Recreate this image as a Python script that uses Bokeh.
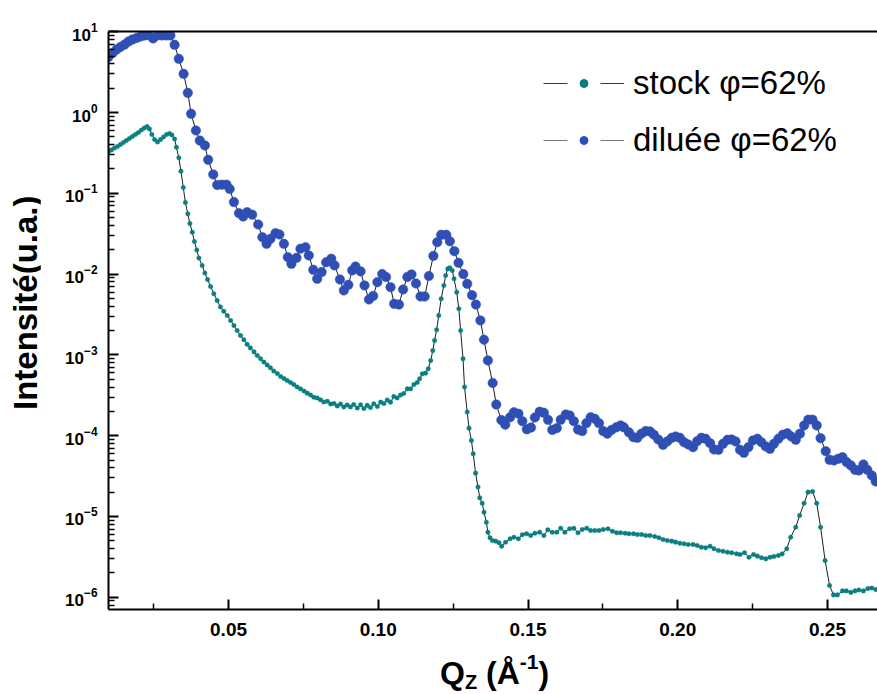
from bokeh.plotting import figure
from bokeh.models import (ColumnDataSource, FixedTicker, NumeralTickFormatter, Div,
                          Legend, LegendItem, LinearAxis, Range1d)
from bokeh.layouts import row, column
from bokeh.embed import file_html
from bokeh.resources import INLINE

# ---------------- data ----------------
q_stock = [
    0.0099, 0.0109, 0.0119, 0.0129, 0.0139, 0.0149, 0.0159, 0.0169, 0.0179, 0.0189,
    0.0199, 0.0209, 0.0219, 0.0228, 0.0236, 0.0244, 0.0253, 0.0263, 0.0273, 0.0283,
    0.0293, 0.0303, 0.0311, 0.0320, 0.0326, 0.0334, 0.0341, 0.0349, 0.0356, 0.0364,
    0.0371, 0.0379, 0.0386, 0.0394, 0.0401, 0.0412, 0.0421, 0.0430, 0.0440, 0.0451,
    0.0462, 0.0473, 0.0484, 0.0496, 0.0507, 0.0518, 0.0529, 0.0540, 0.0551, 0.0562,
    0.0573, 0.0585, 0.0596, 0.0607, 0.0618, 0.0629, 0.0640, 0.0651, 0.0663, 0.0674,
    0.0685, 0.0696, 0.0707, 0.0718, 0.0729, 0.0740, 0.0752, 0.0763, 0.0774, 0.0785,
    0.0796, 0.0807, 0.0818, 0.0830, 0.0841, 0.0852, 0.0863, 0.0874, 0.0885, 0.0896,
    0.0907, 0.0918, 0.0930, 0.0941, 0.0952, 0.0963, 0.0974, 0.0985, 0.0997, 0.1008,
    0.1019, 0.1030, 0.1041, 0.1052, 0.1063, 0.1074, 0.1085, 0.1097, 0.1108, 0.1119,
    0.1130, 0.1138, 0.1147, 0.1158, 0.1167, 0.1175, 0.1182, 0.1188, 0.1195, 0.1202,
    0.1210, 0.1219, 0.1225, 0.1232, 0.1239, 0.1247, 0.1253, 0.1262, 0.1269, 0.1275,
    0.1283, 0.1288, 0.1297, 0.1303, 0.1311, 0.1317, 0.1325, 0.1333, 0.1339, 0.1347,
    0.1353, 0.1361, 0.1366, 0.1373, 0.1381, 0.1392, 0.1403, 0.1412, 0.1425, 0.1440,
    0.1453, 0.1468, 0.1481, 0.1495, 0.1509, 0.1523, 0.1539, 0.1553, 0.1566, 0.1581,
    0.1596, 0.1609, 0.1623, 0.1639, 0.1653, 0.1667, 0.1681, 0.1696, 0.1709, 0.1723,
    0.1737, 0.1751, 0.1767, 0.1782, 0.1796, 0.1809, 0.1824, 0.1837, 0.1852, 0.1865,
    0.1879, 0.1893, 0.1907, 0.1923, 0.1937, 0.1951, 0.1965, 0.1980, 0.1993, 0.2007,
    0.2021, 0.2035, 0.2051, 0.2065, 0.2079, 0.2093, 0.2108, 0.2121, 0.2136, 0.2151,
    0.2166, 0.2180, 0.2196, 0.2208, 0.2223, 0.2238, 0.2253, 0.2266, 0.2280, 0.2294,
    0.2308, 0.2321, 0.2336, 0.2349, 0.2364, 0.2377, 0.2394, 0.2407, 0.2422, 0.2435,
    0.2450, 0.2464, 0.2477, 0.2492, 0.2507, 0.2520, 0.2533, 0.2550, 0.2563, 0.2578,
    0.2592, 0.2605, 0.2620, 0.2635, 0.2648, 0.2661,
]
i_stock = [
    0.329, 0.344, 0.364, 0.379, 0.402, 0.425, 0.45, 0.477, 0.505, 0.534,
    0.565, 0.607, 0.643, 0.671, 0.625, 0.534, 0.463, 0.431, 0.463, 0.498,
    0.534, 0.550, 0.527, 0.470, 0.372, 0.275, 0.188, 0.118, 7.69e-2, 5.57e-2,
    4.23e-2, 3.30e-2, 2.53e-2, 1.99e-2, 1.58e-2, 1.28e-2, 1.03e-2, 8.57e-3, 7.03e-3, 5.70e-3,
    4.71e-3, 3.92e-3, 3.47e-3, 3.07e-3, 2.67e-3, 2.31e-3, 2.00e-3, 1.74e-3, 1.54e-3, 1.35e-3,
    1.22e-3, 1.09e-3, 9.84e-4, 8.95e-4, 8.17e-4, 7.50e-4, 6.92e-4, 6.32e-4, 5.89e-4, 5.40e-4,
    5.10e-4, 4.82e-4, 4.55e-4, 4.30e-4, 4.01e-4, 3.80e-4, 3.57e-4, 3.36e-4, 3.19e-4, 2.99e-4,
    2.93e-4, 2.78e-4, 2.61e-4, 2.67e-4, 2.47e-4, 2.50e-4, 2.33e-4, 2.47e-4, 2.27e-4, 2.40e-4,
    2.27e-4, 2.43e-4, 2.20e-4, 2.41e-4, 2.17e-4, 2.37e-4, 2.23e-4, 2.48e-4, 2.30e-4, 2.60e-4,
    2.50e-4, 2.77e-4, 2.60e-4, 3.05e-4, 2.93e-4, 3.19e-4, 3.33e-4, 3.80e-4, 3.80e-4, 4.30e-4,
    4.55e-4, 5.06e-4, 5.83e-4, 5.94e-4, 6.73e-4, 8.53e-4, 1.13e-3, 1.51e-3, 2.05e-3, 3.07e-3,
    4.95e-3, 7.23e-3, 9.61e-3, 1.16e-2, 1.20e-2, 1.11e-2, 8.75e-3, 5.97e-3, 3.72e-3, 2.00e-3,
    8.95e-4, 4.01e-4, 1.96e-4, 1.24e-4, 8.72e-5, 5.97e-5, 3.44e-5, 2.31e-5, 1.70e-5, 1.46e-5,
    1.13e-5, 8.5e-6, 6.39e-6, 5.45e-6, 5.05e-6, 4.95e-6, 4.73e-6, 4.29e-6, 4.81e-6, 5.30e-6,
    5.54e-6, 5.30e-6, 5.94e-6, 6.11e-6, 5.82e-6, 6.21e-6, 6.39e-6, 5.82e-6, 6.84e-6, 6.39e-6,
    6.39e-6, 7.16e-6, 6.39e-6, 7.05e-6, 7.16e-6, 6.28e-6, 6.90e-6, 7.16e-6, 6.71e-6, 6.71e-6,
    6.71e-6, 6.90e-6, 7.05e-6, 6.58e-6, 6.28e-6, 6.28e-6, 6.21e-6, 6.11e-6, 6.11e-6, 5.98e-6,
    5.98e-6, 5.82e-6, 5.82e-6, 5.65e-6, 5.45e-6, 5.19e-6, 5.05e-6, 4.95e-6, 4.81e-6, 4.67e-6,
    4.59e-6, 4.50e-6, 4.50e-6, 4.38e-6, 4.17e-6, 4.10e-6, 4.29e-6, 3.98e-6, 3.79e-6, 3.72e-6,
    3.61e-6, 3.56e-6, 3.45e-6, 3.39e-6, 3.56e-6, 3.13e-6, 3.39e-6, 3.23e-6, 3.08e-6, 2.99e-6,
    3.13e-6, 3.20e-6, 3.29e-6, 3.45e-6, 3.98e-6, 5.54e-6, 7.37e-6, 1.03e-5, 1.46e-5, 2.00e-5,
    2.04e-5, 1.46e-5, 7.37e-6, 2.85e-6, 1.40e-6, 1.07e-6, 1.07e-6, 1.20e-6, 1.20e-6, 1.15e-6,
    1.20e-6, 1.23e-6, 1.20e-6, 1.28e-6, 1.30e-6, 1.25e-6,
]

q_dilue = [
    0.0099, 0.0113, 0.0126, 0.0139, 0.0153, 0.0166, 0.0179, 0.0193, 0.0206, 0.0219,
    0.0233, 0.0248, 0.0263, 0.0278, 0.0293, 0.0306, 0.0320, 0.0334, 0.0350, 0.0364,
    0.0375, 0.0391, 0.0404, 0.0421, 0.0432, 0.0449, 0.0462, 0.0478, 0.0493, 0.0504,
    0.0518, 0.0535, 0.0549, 0.0562, 0.0579, 0.0599, 0.0613, 0.0627, 0.0640, 0.0657,
    0.0670, 0.0685, 0.0698, 0.0710, 0.0727, 0.0740, 0.0757, 0.0768, 0.0783, 0.0796,
    0.0811, 0.0826, 0.0843, 0.0854, 0.0872, 0.0885, 0.0900, 0.0913, 0.0924, 0.0941,
    0.0954, 0.0969, 0.0983, 0.0997, 0.1013, 0.1026, 0.1041, 0.1053, 0.1069, 0.1083,
    0.1097, 0.1111, 0.1126, 0.1141, 0.1155, 0.1169, 0.1184, 0.1197, 0.1210, 0.1227,
    0.1239, 0.1254, 0.1268, 0.1284, 0.1297, 0.1313, 0.1326, 0.1341, 0.1353, 0.1366,
    0.1382, 0.1394, 0.1411, 0.1424, 0.1440, 0.1453, 0.1468, 0.1481, 0.1496, 0.1510,
    0.1523, 0.1539, 0.1553, 0.1567, 0.1581, 0.1596, 0.1609, 0.1626, 0.1639, 0.1653,
    0.1667, 0.1681, 0.1695, 0.1709, 0.1723, 0.1737, 0.1751, 0.1765, 0.1779, 0.1795,
    0.1809, 0.1820, 0.1837, 0.1852, 0.1865, 0.1879, 0.1893, 0.1907, 0.1920, 0.1935,
    0.1951, 0.1965, 0.1980, 0.1993, 0.2007, 0.2021, 0.2035, 0.2051, 0.2065, 0.2079,
    0.2093, 0.2108, 0.2121, 0.2136, 0.2151, 0.2166, 0.2180, 0.2193, 0.2208, 0.2221,
    0.2236, 0.2251, 0.2266, 0.2279, 0.2294, 0.2308, 0.2321, 0.2336, 0.2351, 0.2366,
    0.2379, 0.2394, 0.2408, 0.2422, 0.2436, 0.2450, 0.2464, 0.2477, 0.2494, 0.2507,
    0.2522, 0.2536, 0.2550, 0.2564, 0.2578, 0.2592, 0.2605, 0.2620, 0.2633, 0.2648,
    0.2661,
]
i_dilue = [
    4.86, 5.45, 6.02, 6.47, 6.94, 7.56, 8.0, 8.36, 8.72, 8.97,
    9.1, 8.24, 9.0, 9.0, 9.0, 9.0, 6.88, 4.62, 3.01, 1.75,
    0.964, 0.599, 0.45, 0.391, 0.26, 0.171, 0.127, 0.128, 0.128, 0.113,
    7.8e-2, 5.67e-2, 5.16e-2, 5.84e-2, 5.43e-2, 4.11e-2, 2.86e-2, 2.37e-2, 2.73e-2, 3.21e-2,
    3.09e-2, 2.37e-2, 1.62e-2, 1.34e-2, 1.59e-2, 2.06e-2, 2.15e-2, 1.70e-2, 1.13e-2, 8.75e-3,
    1.06e-2, 1.40e-2, 1.55e-2, 1.28e-2, 8.57e-3, 6.27e-3, 7.37e-3, 1.11e-2, 1.24e-2, 1.08e-2,
    7.23e-3, 4.85e-3, 5.36e-3, 7.94e-3, 1.0e-2, 9.2e-3, 6.88e-3, 4.29e-3, 4.2e-3, 6.45e-3,
    9.2e-3, 9.9e-3, 7.65e-3, 5.28e-3, 5.28e-3, 9.47e-3, 1.68e-2, 2.48e-2, 3.06e-2, 3.06e-2,
    2.55e-2, 1.92e-2, 1.38e-2, 1.0e-2, 7.59e-3, 5.48e-3, 4.2e-3, 2.67e-3, 1.54e-3, 8.53e-4,
    4.49e-4, 2.43e-4, 1.56e-4, 1.37e-4, 1.69e-4, 1.95e-4, 1.87e-4, 1.51e-4, 1.20e-4, 1.26e-4,
    1.68e-4, 1.98e-4, 1.92e-4, 1.57e-4, 1.18e-4, 1.24e-4, 1.57e-4, 1.83e-4, 1.78e-4, 1.51e-4,
    1.19e-4, 1.14e-4, 1.43e-4, 1.69e-4, 1.62e-4, 1.43e-4, 1.14e-4, 1.06e-4, 1.18e-4, 1.27e-4,
    1.34e-4, 1.27e-4, 1.10e-4, 9.58e-5, 9.42e-5, 1.06e-4, 1.14e-4, 1.13e-4, 1.03e-4, 8.97e-5,
    7.71e-5, 8.48e-5, 9.42e-5, 9.77e-5, 9.42e-5, 8.31e-5, 7.78e-5, 7.21e-5, 8.55e-5, 9.42e-5,
    9.16e-5, 8.07e-5, 6.75e-5, 6.69e-5, 7.94e-5, 8.9e-5, 8.97e-5, 8.48e-5, 6.69e-5, 6.14e-5,
    7.21e-5, 8.72e-5, 9.16e-5, 8.31e-5, 7.35e-5, 6.88e-5, 7.94e-5, 9.16e-5, 1.03e-4, 1.07e-4,
    9.77e-5, 8.9e-5, 1.06e-4, 1.34e-4, 1.58e-4, 1.58e-4, 1.34e-4, 9.31e-5, 6.43e-5, 5.03e-5,
    4.93e-5, 5.18e-5, 5.42e-5, 4.70e-5, 4.28e-5, 3.78e-5, 3.71e-5, 4.40e-5, 3.78e-5, 3.22e-5,
    2.71e-5,
]

legend_labels = ["stock \u03c6=62%", "dilu\u00e9e \u03c6=62%"]
x_ticks = [0.05, 0.10, 0.15, 0.20, 0.25]
x_minor_ticks = [0.025, 0.075, 0.125, 0.175, 0.225]
y_ticks = [1e-6, 1e-5, 1e-4, 1e-3, 1e-2, 1e-1, 1.0, 10.0]
y_tick_labels = ["10\u207b\u2076", "10\u207b\u2075", "10\u207b\u2074", "10\u207b\u00b3",
                 "10\u207b\u00b2", "10\u207b\u00b9", "10\u2070", "10\u00b9"]
y_title = "Intensit\u00e9(u.a.)"
x_title_parts = ["Q", "Z", "(\u00c5", "-1", ")"]

# ---------------- styling ----------------
FONT = "Liberation Sans"
CSS_FONT = "'Liberation Sans', Arial, sans-serif"
TEAL = "#0a7f80"
BLUE = "#2f4fb4"
LINE = "#1e1e1e"

p = figure(width=837, height=648, y_axis_type="log",
           x_range=Range1d(0.00992, 0.2667), y_range=Range1d(7.06e-7, 10.06),
           output_backend="svg", toolbar_location=None,
           min_border_left=68, min_border_right=0, min_border_top=31, min_border_bottom=39,
           margin=(0, 0, 0, 0))
p.outline_line_color = None
p.grid.visible = False
p.background_fill_color = "white"
p.border_fill_color = "white"

src_s = ColumnDataSource(dict(q=q_stock, i=i_stock))
src_d = ColumnDataSource(dict(q=q_dilue, i=i_dilue))

p.line("q", "i", source=src_d, line_color=LINE, line_width=1)
p.scatter("q", "i", source=src_d, size=9.5, fill_color=BLUE, line_color=BLUE, line_width=0.5)
p.line("q", "i", source=src_s, line_color=LINE, line_width=1)
p.scatter("q", "i", source=src_s, size=4.6, fill_color=TEAL, line_color=TEAL, line_width=0.3)

# axes
xa = p.xaxis[0]
xa.ticker = FixedTicker(ticks=x_ticks, minor_ticks=x_minor_ticks)
xa.formatter = NumeralTickFormatter(format="0.00")
ya = p.yaxis[0]
ya.ticker = FixedTicker(ticks=y_ticks,
                        minor_ticks=[m * 10.0 ** k for k in range(-7, 1) for m in range(2, 10)])


def js_key(v):
    return ("%.10f" % v).rstrip("0").rstrip(".")


ya.major_label_overrides = {js_key(v): lab for v, lab in zip(y_ticks, y_tick_labels)}

for ax in (xa, ya):
    ax.axis_line_width = 2
    ax.axis_line_color = "black"
    ax.major_tick_in = 10
    ax.major_tick_out = 0
    ax.minor_tick_in = 6
    ax.minor_tick_out = 0
    ax.major_tick_line_width = 2
    ax.minor_tick_line_width = 1.5
    ax.major_tick_line_color = "black"
    ax.minor_tick_line_color = "black"
    ax.major_label_text_font = FONT
    ax.major_label_text_font_style = "bold"
    ax.major_label_text_color = "black"
xa.major_label_text_font_size = "19px"
ya.major_label_text_font_size = "17px"
xa.major_label_standoff = 13
ya.major_label_standoff = 11

top = LinearAxis(ticker=FixedTicker(ticks=[]), major_label_text_font_size="0px",
                 major_tick_line_color=None, minor_tick_line_color=None,
                 axis_line_width=2, axis_line_color="black", major_label_standoff=0)
p.add_layout(top, "above")

# legend (off-range one-point renderers carry the legend style)
leg_l1 = p.line([-1.0, -0.9], [1.0, 1.0], line_color="#6a2424", line_width=1.2, line_dash="24 33")
leg_s1 = p.scatter([-1.0], [1.0], size=4.6, fill_color=TEAL, line_color=TEAL)
leg_l2 = p.line([-1.0, -0.9], [1.0, 1.0], line_color="#7a7a7a", line_width=1.2, line_dash="24 33")
leg_s2 = p.scatter([-1.0], [1.0], size=9.5, fill_color=BLUE, line_color=BLUE)
legend = Legend(items=[LegendItem(label=legend_labels[0], renderers=[leg_l1, leg_s1]),
                       LegendItem(label=legend_labels[1], renderers=[leg_l2, leg_s2])],
                location=(435, 450), orientation="vertical",
                border_line_color=None, background_fill_alpha=0,
                padding=0, margin=0, spacing=19, glyph_width=81, glyph_height=20,
                label_standoff=9, label_text_font=FONT, label_text_font_size="33px",
                label_text_color="black")
p.add_layout(legend, "center")

# axis titles as HTML text (sub/superscripts)
y_html = ('<div style="position:absolute;left:9px;top:410px;transform-origin:0 0;'
          'transform:rotate(-90deg);white-space:nowrap;font-family:%s;font-weight:bold;'
          'font-size:33px;line-height:33px;color:#000">%s</div>' % (CSS_FONT, y_title))
ydiv = Div(text=y_html, width=40, height=694, margin=(0, 0, 0, 0))

x_html = ('<div style="position:absolute;left:400px;top:9px;white-space:nowrap;'
          'font-family:%s;font-weight:bold;font-size:32px;line-height:32px;color:#000">'
          '%s<span style="font-size:20px;position:relative;top:5px">%s</span> %s'
          '<span style="font-size:21px;position:relative;top:-15px">%s</span>%s</div>'
          % (CSS_FONT, x_title_parts[0], x_title_parts[1], x_title_parts[2],
             x_title_parts[3], x_title_parts[4]))
xdiv = Div(text=x_html, width=837, height=46, margin=(0, 0, 0, 0))

layout = row(ydiv, column(p, xdiv, spacing=0, margin=(0, 0, 0, 0)), spacing=0,
             margin=(0, 0, 0, 0))

open("out.html", "w").write(file_html(layout, INLINE))
